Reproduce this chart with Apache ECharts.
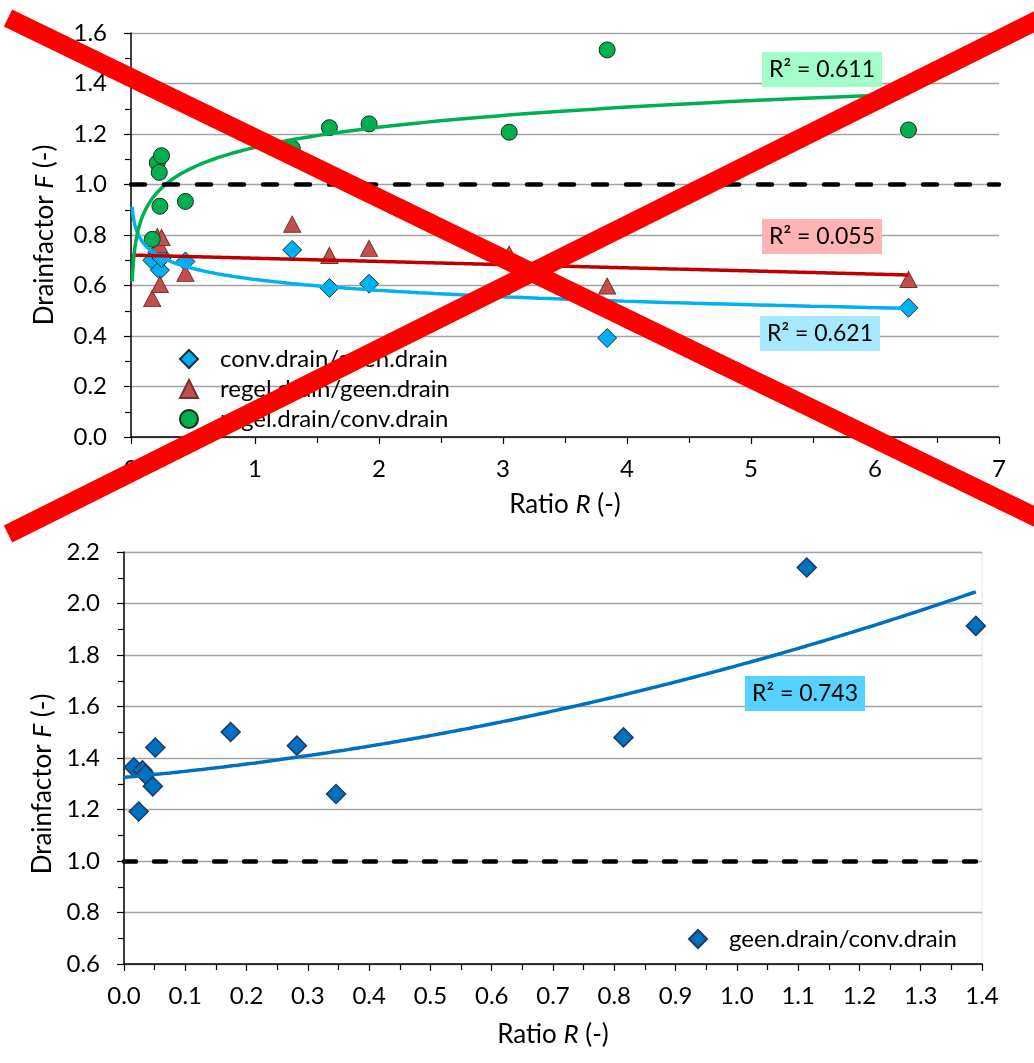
<!DOCTYPE html>
<html>
<head>
<meta charset="utf-8">
<script src="https://cdn.jsdelivr.net/npm/echarts@6/dist/echarts.min.js"></script>
<style>
  html, body { margin: 0; padding: 0; background: #ffffff; }
  #chart { width: 1034px; height: 1063px; }
</style>
</head>
<body>
<div id="chart"></div>
<script>
// ---- Upper panel: drain factors against ratio R ----
const ratioTop  = [0.171, 0.212, 0.228, 0.233, 0.246, 0.439, 1.30, 1.60, 1.92, 3.05, 3.84, 6.27];
const convGeen  = [0.700, 0.731, 0.726, 0.661, 0.709, 0.695, 0.741, 0.590, 0.607, 0.600, 0.392, 0.512];
const regelGeen = [0.548, 0.794, 0.761, 0.604, 0.790, 0.648, 0.843, 0.719, 0.747, 0.724, 0.598, 0.624];
const regelConv = [0.783, 1.086, 1.048, 0.914, 1.114, 0.933, 1.144, 1.225, 1.240, 1.207, 1.533, 1.216];
const namesTop  = ['conv.drain/geen.drain', 'regel.drain/geen.drain', 'regel.drain/conv.drain'];
const r2Top     = ['R² = 0.621', 'R² = 0.055', 'R² = 0.611'];
const trendFromTop = 0.01;

// ---- Lower panel ----
const ratioBottom = [0.016, 0.024, 0.030, 0.035, 0.047, 0.051, 0.174, 0.282, 0.346, 0.815, 1.114, 1.390];
const geenConv    = [1.364, 1.192, 1.352, 1.336, 1.290, 1.441, 1.501, 1.448, 1.260, 1.480, 2.140, 1.913];
const nameBottom  = 'geen.drain/conv.drain';
const r2Bottom    = 'R² = 0.743';
const trendFromBottom = 0;

const referenceF = 1.0;

// ---- least-squares helpers (same trend types as the spreadsheet) ----
function linFit(xs, ys) {
  const n = xs.length;
  let mx = 0, my = 0;
  for (let i = 0; i < n; i++) { mx += xs[i]; my += ys[i]; }
  mx /= n; my /= n;
  let sxy = 0, sxx = 0;
  for (let i = 0; i < n; i++) { sxy += (xs[i] - mx) * (ys[i] - my); sxx += (xs[i] - mx) ** 2; }
  const a = sxy / sxx;
  return x => my + a * (x - mx);
}
function logFit(xs, ys) {
  const f = linFit(xs.map(Math.log), ys);
  return x => f(Math.log(x));
}
function quadFit(xs, ys) {
  const s = [0, 0, 0, 0, 0], t = [0, 0, 0];
  xs.forEach((x, i) => {
    for (let k = 0; k < 5; k++) s[k] += Math.pow(x, k);
    for (let k = 0; k < 3; k++) t[k] += ys[i] * Math.pow(x, k);
  });
  const m = [[s[0], s[1], s[2], t[0]], [s[1], s[2], s[3], t[1]], [s[2], s[3], s[4], t[2]]];
  for (let c = 0; c < 3; c++) {
    for (let r = c + 1; r < 3; r++) {
      const f = m[r][c] / m[c][c];
      for (let k = c; k < 4; k++) m[r][k] -= f * m[c][k];
    }
  }
  const b = [0, 0, 0];
  for (let r = 2; r >= 0; r--) {
    let v = m[r][3];
    for (let k = r + 1; k < 3; k++) v -= m[r][k] * b[k];
    b[r] = v / m[r][r];
  }
  return x => b[0] + b[1] * x + b[2] * x * x;
}
function sampleCurve(fn, from, to, logSpaced) {
  const pts = [];
  const n = 240;
  for (let i = 0; i <= n; i++) {
    const x = logSpaced ? from * Math.pow(to / from, i / n) : from + (to - from) * i / n;
    pts.push([x, fn(x)]);
  }
  return pts;
}
const zip = (xs, ys) => xs.map((x, i) => [x, ys[i]]);

const maxTop = Math.max(...ratioTop);
const maxBottom = Math.max(...ratioBottom);
const trendConv  = sampleCurve(logFit(ratioTop, convGeen), trendFromTop, maxTop, true);
const trendRegel = sampleCurve(linFit(ratioTop, regelGeen), trendFromTop, maxTop, false);
const trendRC    = sampleCurve(logFit(ratioTop, regelConv), trendFromTop, maxTop, true);
const trendGC    = sampleCurve(quadFit(ratioBottom, geenConv), trendFromBottom, maxBottom, false);

// ---- styling ----
const FONT = 'Lato, "Liberation Sans", sans-serif';
const BLACK = '#000000';
const GRID_GRAY = '#a3a3a3';
const tickStyle = { color: BLACK, width: 1.2 };
const oneDec = v => v.toFixed(1);

function valueAxis(extra) {
  return Object.assign({
    type: 'value',
    nameLocation: 'middle',
    nameTextStyle: {
      fontFamily: FONT, fontSize: 26, color: BLACK,
      rich: { i: { fontFamily: FONT, fontSize: 26, fontStyle: 'italic', color: BLACK } }
    },
    axisLine: { show: true, onZero: false, lineStyle: { color: BLACK, width: 1.5 } },
    axisTick: { show: true, length: 7, lineStyle: tickStyle },
    minorTick: { show: true, splitNumber: 2, length: 6, lineStyle: tickStyle },
    axisLabel: { fontFamily: FONT, fontSize: 24, color: BLACK },
    splitLine: { show: false },
    minorSplitLine: { show: false }
  }, extra);
}

function r2Label(text, x, y, bg) {
  return {
    type: 'text', x: x, y: y, z: 50,
    style: { text: text, font: '23px ' + FONT, fill: BLACK, backgroundColor: bg, padding: [6, 7, 6, 7] }
  };
}

const chart = echarts.init(document.getElementById('chart'), null, { renderer: 'canvas' });

const option = {
  animation: false,
  backgroundColor: '#ffffff',
  textStyle: { fontFamily: FONT },
  grid: [
    { left: 131, top: 33, width: 868, height: 404 },
    { left: 124, top: 552, width: 858, height: 412, show: true, borderColor: '#e6e6e6', borderWidth: 1, backgroundColor: 'transparent' }
  ],
  xAxis: [
    valueAxis({
      gridIndex: 0, min: 0, max: 7, interval: 1,
      name: 'Ratio {i|R} (-)', nameGap: 55,
      axisLabel: { fontFamily: FONT, fontSize: 24, color: BLACK, margin: 20 }
    }),
    valueAxis({
      gridIndex: 1, min: 0, max: 1.4, interval: 0.1,
      name: 'Ratio {i|R} (-)', nameGap: 58,
      axisLabel: { fontFamily: FONT, fontSize: 24, color: BLACK, margin: 20, formatter: oneDec }
    })
  ],
  yAxis: [
    valueAxis({
      gridIndex: 0, min: 0, max: 1.6, interval: 0.2,
      name: 'Drainfactor {i|F} (-)', nameGap: 73,
      axisLabel: { fontFamily: FONT, fontSize: 24, color: BLACK, margin: 24, formatter: oneDec },
      splitLine: { show: true, lineStyle: { color: GRID_GRAY, width: 1.3 } }
    }),
    valueAxis({
      gridIndex: 1, min: 0.6, max: 2.2, interval: 0.2,
      name: 'Drainfactor {i|F} (-)', nameGap: 68,
      nameTextStyle: {
        fontFamily: FONT, fontSize: 26, color: BLACK, padding: [0, 52, 0, 0],
        rich: { i: { fontFamily: FONT, fontSize: 26, fontStyle: 'italic', color: BLACK } }
      },
      axisLabel: { fontFamily: FONT, fontSize: 24, color: BLACK, margin: 24, formatter: oneDec },
      splitLine: { show: true, lineStyle: { color: GRID_GRAY, width: 1.3 } }
    })
  ],
  legend: [
    {
      data: namesTop, orient: 'vertical', left: 174, top: 342,
      itemWidth: 18, itemHeight: 18, itemGap: 6, selectedMode: false,
      textStyle: { fontFamily: FONT, fontSize: 24, color: BLACK, padding: [0, 0, 0, 17] }
    },
    {
      data: [nameBottom], orient: 'vertical', left: 683, top: 922,
      itemWidth: 18, itemHeight: 18, selectedMode: false,
      textStyle: { fontFamily: FONT, fontSize: 24, color: BLACK, padding: [0, 0, 0, 17] }
    }
  ],
  series: [
    // dashed reference lines at F = 1
    {
      type: 'scatter', xAxisIndex: 0, yAxisIndex: 0, data: [], z: 1, silent: true,
      markLine: {
        silent: true, symbol: 'none', animation: false, label: { show: false },
        lineStyle: { color: BLACK, width: 4.5, type: [14, 19], cap: 'round' },
        data: [{ yAxis: referenceF }]
      }
    },
    {
      type: 'scatter', xAxisIndex: 1, yAxisIndex: 1, data: [], z: 1, silent: true,
      markLine: {
        silent: true, symbol: 'none', animation: false, label: { show: false },
        lineStyle: { color: BLACK, width: 4.5, type: [12, 18], cap: 'round' },
        data: [{ yAxis: referenceF }]
      }
    },
    // measured points, upper panel
    {
      name: namesTop[0], type: 'scatter', xAxisIndex: 0, yAxisIndex: 0, z: 3,
      data: zip(ratioTop, convGeen), symbol: 'diamond', symbolSize: 19,
      itemStyle: { color: '#00b0f0', borderColor: '#1c2b3a', borderWidth: 1, opacity: 1 }
    },
    {
      name: namesTop[1], type: 'scatter', xAxisIndex: 0, yAxisIndex: 0, z: 3,
      data: zip(ratioTop, regelGeen), symbol: 'triangle', symbolSize: [17, 16],
      itemStyle: { color: '#c0504d', borderColor: '#7a2e2c', borderWidth: 1, opacity: 1 }
    },
    {
      name: namesTop[2], type: 'scatter', xAxisIndex: 0, yAxisIndex: 0, z: 3,
      data: zip(ratioTop, regelConv), symbol: 'circle', symbolSize: 16,
      itemStyle: { color: '#00b050', borderColor: '#1a2a1a', borderWidth: 1, opacity: 1 }
    },
    // measured points, lower panel
    {
      name: nameBottom, type: 'scatter', xAxisIndex: 1, yAxisIndex: 1, z: 3,
      data: zip(ratioBottom, geenConv), symbol: 'diamond', symbolSize: 19,
      itemStyle: { color: '#0070c0', borderColor: '#1f3864', borderWidth: 1.5, opacity: 1 }
    },
    // fitted trend lines
    {
      name: 'trend conv/geen', type: 'line', xAxisIndex: 0, yAxisIndex: 0, z: 4, silent: true,
      data: trendConv, showSymbol: false, symbol: 'none',
      lineStyle: { color: '#00b0f0', width: 3.5 }
    },
    {
      name: 'trend regel/geen', type: 'line', xAxisIndex: 0, yAxisIndex: 0, z: 4, silent: true,
      data: trendRegel, showSymbol: false, symbol: 'none',
      lineStyle: { color: '#c00000', width: 3.5 }
    },
    {
      name: 'trend regel/conv', type: 'line', xAxisIndex: 0, yAxisIndex: 0, z: 4, silent: true,
      data: trendRC, showSymbol: false, symbol: 'none',
      lineStyle: { color: '#00b050', width: 3.5 }
    },
    {
      name: 'trend geen/conv', type: 'line', xAxisIndex: 1, yAxisIndex: 1, z: 4, silent: true,
      data: trendGC, showSymbol: false, symbol: 'none',
      lineStyle: { color: '#0070c0', width: 3.5 }
    }
  ],
  graphic: [
    r2Label(r2Top[2], 762, 52, '#a3fdc9'),
    r2Label(r2Top[1], 762, 219, '#ffb3b3'),
    r2Label(r2Top[0], 760, 316, '#a5e8ff'),
    r2Label(r2Bottom, 745, 676, '#55d2ff'),
    // red cross over the upper panel
    { type: 'line', z: 100, silent: true, shape: { x1: 8, y1: 18, x2: 1050, y2: 524 }, style: { stroke: '#ff0000', lineWidth: 19, lineCap: 'butt' } },
    { type: 'line', z: 100, silent: true, shape: { x1: 8, y1: 534, x2: 1050, y2: 14 }, style: { stroke: '#ff0000', lineWidth: 19, lineCap: 'butt' } }
  ]
};

chart.setOption(option);
</script>
</body>
</html>
